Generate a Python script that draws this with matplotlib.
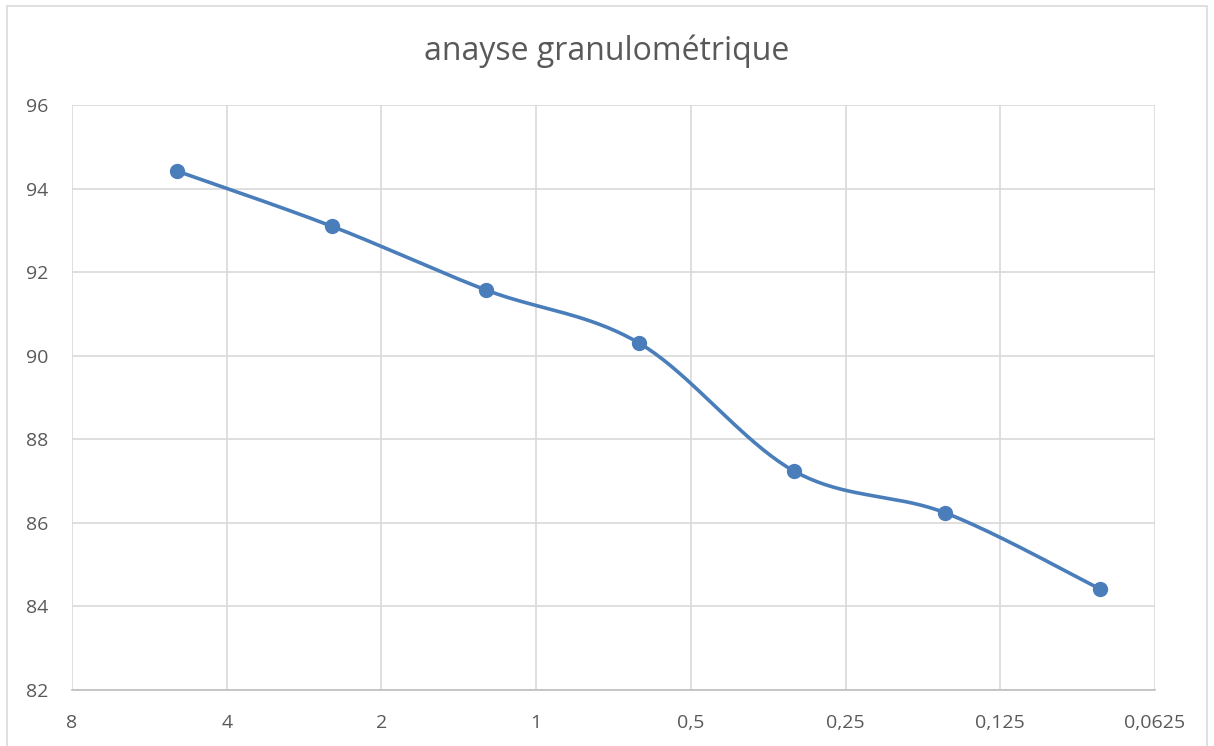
import matplotlib
matplotlib.use("Agg")
import matplotlib.pyplot as plt
from matplotlib.patches import Rectangle
import numpy as np

# sieve size (mm) and passing percentage
sizes = [5, 2.5, 1.25, 0.63, 0.315, 0.16, 0.08]
passing = [94.42, 93.10, 91.57, 90.30, 87.24, 86.24, 84.42]
xticks = [8, 4, 2, 1, 0.5, 0.25, 0.125, 0.0625]
xticklabels = ["8", "4", "2", "1", "0,5", "0,25", "0,125", "0,0625"]
yticks = [82, 84, 86, 88, 90, 92, 94, 96]

plt.rcParams['font.family'] = ['Open Sans', 'DejaVu Sans']
grey = '#595959'
blue = '#4a7ebb'


def smooth_curve(xs, ys, n=40):
    """
    Excel-style smoothed line: cubic bezier through the points,
    computed in log2(x) / y space scaled to the axes size
    """
    u = np.log2(np.array(xs, dtype=float))
    v = np.array(ys, dtype=float)
    su, sv = 7.0, 14.0  # axis spans, to smooth in screen proportions
    p = np.column_stack([u / su * 1083, v / sv * 585])
    pts = np.vstack([p[0], p, p[-1]])
    out = []
    t = np.linspace(0, 1, n)[:, None]
    for i in range(1, len(pts) - 2):
        p0, p1, p2, p3 = pts[i - 1], pts[i], pts[i + 1], pts[i + 2]
        c1 = p1 + (p2 - p0) / 6
        c2 = p2 - (p3 - p1) / 6
        seg = ((1 - t) ** 3) * p1 + 3 * ((1 - t) ** 2) * t * c1 \
            + 3 * (1 - t) * t ** 2 * c2 + t ** 3 * p2
        out.append(seg)
    out = np.vstack(out)
    return 2 ** (out[:, 0] / 1083 * su), out[:, 1] / 585 * sv


fig = plt.figure(figsize=(12.14, 7.46), dpi=100)
ax = fig.add_axes([72 / 1214, 56 / 746, 1083 / 1214, 585 / 746])

# chart border
fig.patches.append(Rectangle((7 / 1214, -0.01), 1200 / 1214, 1 - 6 / 746 + 0.01,
                             transform=fig.transFigure, fill=False,
                             edgecolor='#d9d9d9', linewidth=1.2))

ax.set_xscale('log', base=2)
ax.set_xlim(8, 0.0625)
ax.set_ylim(82, 96)
ax.set_xticks(xticks)
ax.set_xticklabels(xticklabels)
ax.set_yticks(yticks)
ax.minorticks_off()
ax.grid(True, color='#d9d9d9', linewidth=1.2)
ax.set_axisbelow(True)
for s in ax.spines.values():
    s.set_visible(False)
ax.spines['bottom'].set_visible(True)
ax.spines['bottom'].set_color('#bfbfbf')
ax.spines['bottom'].set_linewidth(1.2)
ax.tick_params(length=0, labelsize=14, colors=grey)
ax.tick_params(axis='x', pad=17)
ax.tick_params(axis='y', pad=17)

sx, sy = smooth_curve(sizes, passing)
ax.plot(sx, sy, color=blue, linewidth=2.6, solid_capstyle='round')
ax.plot(sizes, passing, 'o', color=blue, markersize=10)

fig.text(0.5, 1 - 51 / 746, "anayse granulométrique", ha='center', va='center',
         fontsize=23, color=grey)

fig.savefig("out.png", dpi=100)
